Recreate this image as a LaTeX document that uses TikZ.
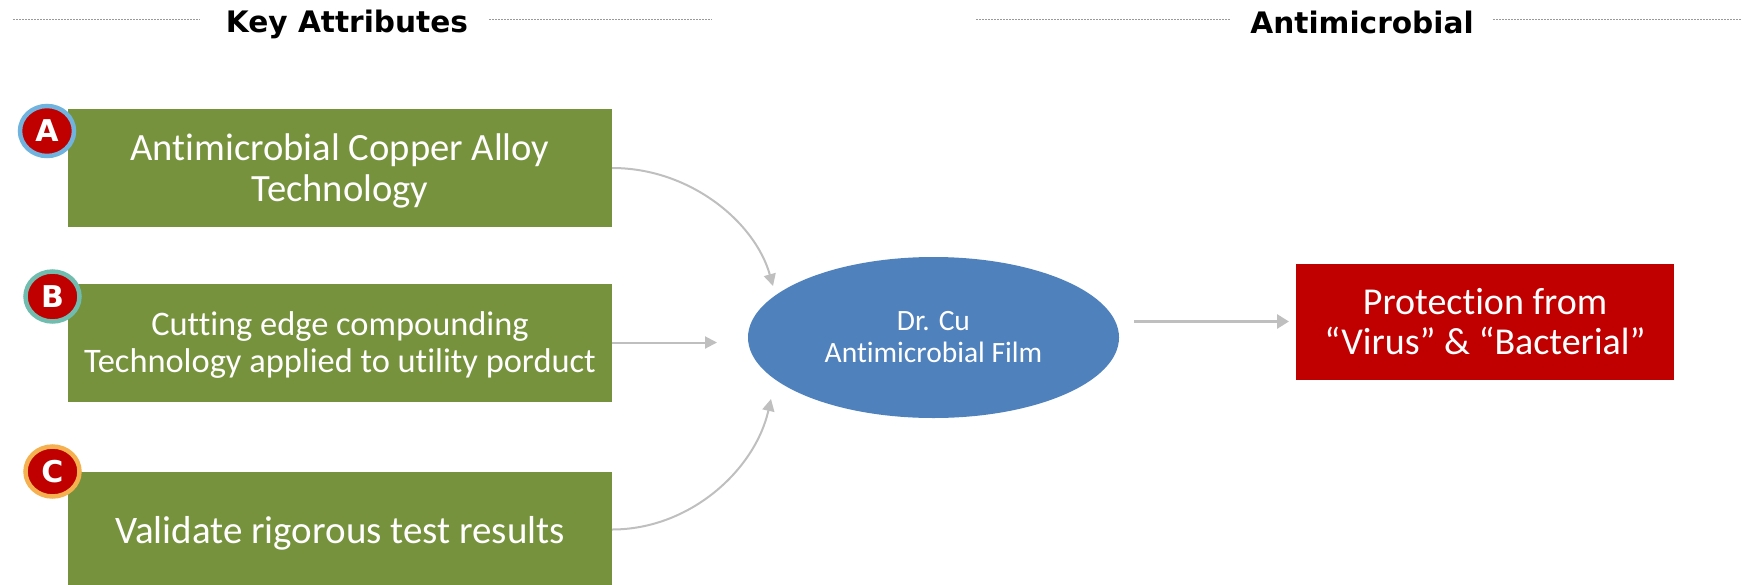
\documentclass[tikz,border=0pt]{standalone}
\usepackage{fontspec}
\setmainfont[Ligatures=NoCommon]{Carlito}
\newfontfamily\headfont{DejaVu Sans}
\usetikzlibrary{arrows.meta,shapes.geometric}
\definecolor{boxgreen}{HTML}{76923C}
\definecolor{boxred}{HTML}{C00000}
\definecolor{ellblue}{HTML}{4F81BD}
\definecolor{arrowgrey}{HTML}{BFBFBF}
\definecolor{dotgrey}{HTML}{9A9A9A}
\definecolor{ringA}{HTML}{6FB3DE}
\definecolor{ringB}{HTML}{70BDB0}
\definecolor{ringC}{HTML}{F5B04F}
\tikzset{
  box/.style={rectangle,draw=none,inner sep=0pt,text=white,align=center},
  greenbox/.style={box,fill=boxgreen,minimum width=544pt,minimum height=118pt},
  boxtext/.style={inner sep=0pt,text=white,align=center,yshift=-3pt},
  redbox/.style={box,fill=boxred,minimum width=378pt,minimum height=116pt},
  film/.style={ellipse,fill=ellblue,inner sep=0pt,text=white,align=center,minimum width=371pt,minimum height=161pt},
  badge/.style={ellipse,fill=boxred,line width=4.5pt,inner sep=0pt,minimum width=54pt,minimum height=50pt,text=white,font=\headfont\bfseries\fontsize{30}{30}\selectfont},
  heading/.style={inner sep=0pt,anchor=base,text=black,font=\headfont\bfseries\fontsize{29.6}{30}\selectfont},
  rule/.style={dotgrey,line width=1pt,dash pattern=on 1.5pt off 1.5pt},
  conn/.style={arrowgrey,line width=2pt,-{Triangle[length=12pt,width=12pt]}},
  thick conn/.style={arrowgrey,line width=3.4pt,-{Triangle[length=12pt,width=14pt]}}
}
\begin{document}
\begin{tikzpicture}[x=1pt,y=-1pt]
\useasboundingbox (0,0) rectangle (1742,584);
% headings
\node[heading] (h1) at (347,32) {Key Attributes};
\node[heading] (h2) at (1362,33.5) {Antimicrobial};
\coordinate (r1a) at (13,19); \coordinate (r1b) at (200,19);
\coordinate (r2a) at (489,19); \coordinate (r2b) at (712,19);
\coordinate (r3a) at (976,19); \coordinate (r3b) at (1230,19);
\coordinate (r4a) at (1493,19); \coordinate (r4b) at (1742,19);
\draw[rule] (r1a) -- (r1b);
\draw[rule] (r2a) -- (r2b);
\draw[rule] (r3a) -- (r3b);
\draw[rule] (r4a) -- (r4b);
% boxes
\node[greenbox,label={[boxtext,font=\fontsize{38.6}{41.5}\selectfont]center:{Antimicrobial Copper Alloy\\Technology}}] (A) at (340,168) {};
\node[greenbox,label={[boxtext,font=\fontsize{34.4}{37}\selectfont]center:{Cutting edge compounding\\Technology applied to utility porduct}}] (B) at (340,342.5) {};
\node[greenbox,label={[boxtext,font=\fontsize{39}{41}\selectfont]center:{Validate rigorous test results}}] (C) at (340,530.5) {};
\node[film,font=\fontsize{29.5}{32}\selectfont] (F) at (933.5,337.5) {Dr. Cu\\Antimicrobial Film};
\node[redbox,font=\fontsize{38}{40}\selectfont] (R) at (1485,321.5) {Protection from\\“Virus” \& “Bacterial”};
% badges
\node[badge,draw=ringA] (bA) at (47,131) {A};
\node[badge,draw=ringB] (bB) at (52.5,296.5) {B};
\node[badge,draw=ringC] (bC) at (52.5,471.5) {C};
% connectors
\coordinate (tA) at (773,286);
\coordinate (tB) at (717,342.5);
\coordinate (sC) at (612,529.5);
\coordinate (tC) at (771,399);
\coordinate (sF) at (1134,321.5);
\coordinate (tR) at (1289,321.5);
\draw[conn] (A.east) .. controls (690,168) and (755,222) .. (tA);
\draw[conn] (B.east) -- (tB);
\draw[conn] (sC) .. controls (690,529.5) and (755,470) .. (tC);
\draw[thick conn] (sF) -- (tR);
\end{tikzpicture}
\end{document}
